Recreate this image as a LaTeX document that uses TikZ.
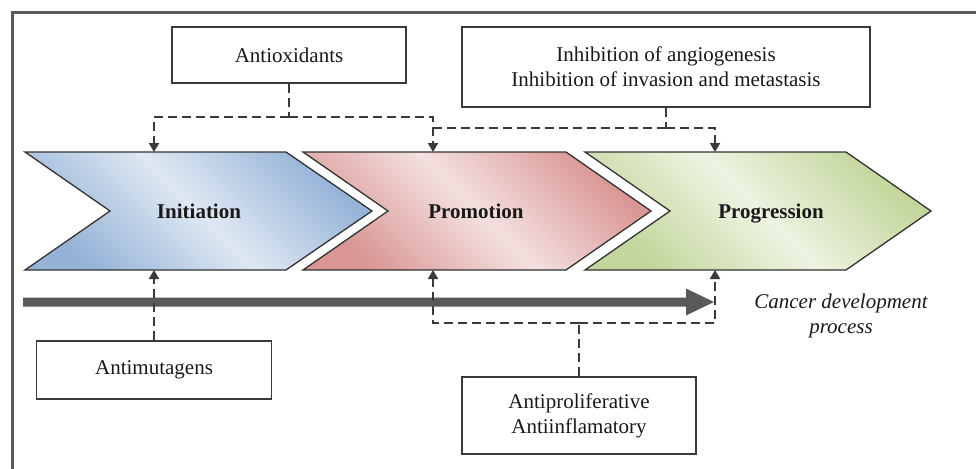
\documentclass[tikz,border=0pt]{standalone}
\usepackage{fontspec}
\setmainfont{Liberation Serif}
\usetikzlibrary{arrows.meta}
\definecolor{bluedark}{HTML}{95B3D7}
\definecolor{bluelight}{HTML}{DFE8F3}
\definecolor{reddark}{HTML}{D99694}
\definecolor{redlight}{HTML}{F4E0E0}
\definecolor{greendark}{HTML}{C3D69B}
\definecolor{greenlight}{HTML}{EDF3E1}
\definecolor{framegray}{HTML}{5A5A5A}
\definecolor{linegray}{HTML}{3A3A3A}
\definecolor{arrowgray}{HTML}{595959}
\pgfdeclarehorizontalshading{blueshade}{100bp}{color(0bp)=(bluedark); color(25bp)=(bluedark); color(50bp)=(bluelight); color(75bp)=(bluedark); color(100bp)=(bluedark)}
\pgfdeclarehorizontalshading{redshade}{100bp}{color(0bp)=(reddark); color(25bp)=(reddark); color(50bp)=(redlight); color(75bp)=(reddark); color(100bp)=(reddark)}
\pgfdeclarehorizontalshading{greenshade}{100bp}{color(0bp)=(greendark); color(25bp)=(greendark); color(50bp)=(greenlight); color(75bp)=(greendark); color(100bp)=(greendark)}
\tikzset{
  txt/.style={font=\fontsize{21}{25}\selectfont, text=black!90},
  infobox/.style={txt, draw=linegray, line width=1.6pt, fill=white, inner sep=0pt, align=center},
  chev/.style={draw=black!80, line width=1.3pt, line join=miter},
  stagelabel/.style={txt, font=\fontsize{21}{25}\selectfont\bfseries, anchor=base},
  dashline/.style={draw=linegray, line width=2pt, dash pattern=on 9pt off 5pt},
  dasharrow/.style={dashline, -{Triangle[length=9pt,width=10pt]}},
}
\begin{document}
\begin{tikzpicture}[x=1pt,y=-1pt]
\useasboundingbox (0,0) rectangle (976,468);
% frame
\draw[framegray, line width=3pt] (12,470) -- (12,13) -- (978,13);
% chevrons
\path[chev, shading=blueshade, shading angle=45] (25,152) -- (286,152) -- (372,211) -- (286,270) -- (25,270) -- (110,211) -- cycle;
\path[chev, shading=redshade, shading angle=45] (303,152) -- (566,152) -- (651,211) -- (566,270) -- (303,270) -- (388,211) -- cycle;
\path[chev, shading=greenshade, shading angle=45] (585,152) -- (846,152) -- (931,211) -- (846,270) -- (585,270) -- (670,211) -- cycle;
\node[stagelabel] (init) at (199,218) {Initiation};
\node[stagelabel] (prom) at (476,218) {Promotion};
\node[stagelabel] (prog) at (771,218) {Progression};
% anchor points on chevrons
\coordinate (initTop) at (154,152);
\coordinate (promTop) at (433,152);
\coordinate (progTop) at (715,152);
\coordinate (initBot) at (154,270);
\coordinate (promBot) at (433,270);
\coordinate (progBot) at (715,270);
% big process arrow
\fill[arrowgray] (23,297.5) -- (686,297.5) -- (686,288.5) -- (714,302) -- (686,315.5) -- (686,306.5) -- (23,306.5) -- cycle;
\node[txt, font=\fontsize{21}{25}\selectfont\itshape, align=center] (cdp) at (841,316) {Cancer development\\process};
% boxes
\node[infobox, minimum width=234pt, minimum height=56pt] (antiox) at (289,55) {Antioxidants};
\node[infobox, minimum width=408pt, minimum height=80pt] (inhib) at (666,67) {Inhibition of angiogenesis\\Inhibition of invasion and metastasis};
\node[infobox, minimum width=235pt, minimum height=58pt] (antimut) at (154,370) {Antimutagens};
\node[infobox, minimum width=234pt, minimum height=77pt] (antiprol) at (579,415.5) {Antiproliferative\\Antiinflamatory};
% junctions
\coordinate (jA) at (289,117);
\coordinate (jB) at (666,128);
\coordinate (jC) at (433,128);
\coordinate (jD) at (579,323);
% top connectors
\draw[dashline] (antiox.south) -- (jA);
\draw[dasharrow] (jA) -| (initTop);
\draw[dasharrow] (jA) -| (promTop);
\draw[dashline] (inhib.south) -- (jB);
\draw[dashline] (jB) -- (jC);
\draw[dasharrow] (jB) -| (progTop);
% bottom connectors
\draw[dasharrow] (antimut.north) -- (initBot);
\draw[dashline] (antiprol.north) -- (jD);
\draw[dasharrow] (jD) -| (promBot);
\draw[dasharrow] (jD) -| (progBot);
\end{tikzpicture}
\end{document}
